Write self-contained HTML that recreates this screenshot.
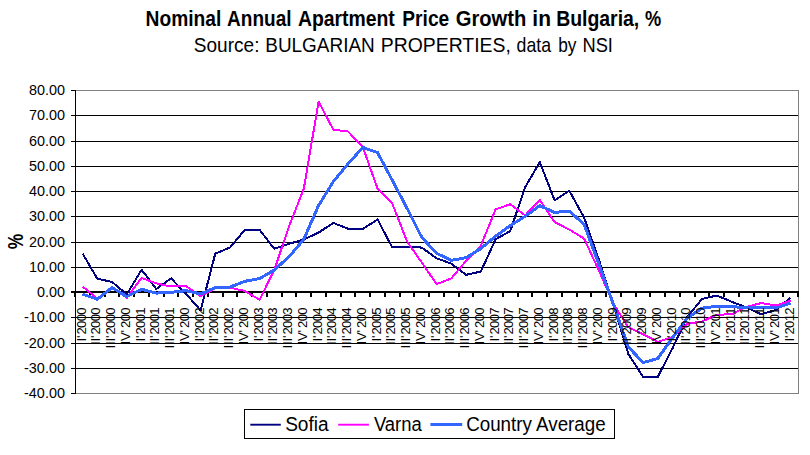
<!DOCTYPE html><html><head><meta charset="utf-8"><style>html,body{margin:0;padding:0;background:#fff}svg{display:block}text{font-family:"Liberation Sans",sans-serif;fill:#000}</style></head><body>
<svg width="810" height="455" viewBox="0 0 810 455">
<rect width="810" height="455" fill="#fff"/>
<line x1="75.5" y1="115.5" x2="798.5" y2="115.5" stroke="#000" stroke-width="1"/>
<line x1="75.5" y1="141.5" x2="798.5" y2="141.5" stroke="#000" stroke-width="1"/>
<line x1="75.5" y1="166.5" x2="798.5" y2="166.5" stroke="#000" stroke-width="1"/>
<line x1="75.5" y1="191.5" x2="798.5" y2="191.5" stroke="#000" stroke-width="1"/>
<line x1="75.5" y1="216.5" x2="798.5" y2="216.5" stroke="#000" stroke-width="1"/>
<line x1="75.5" y1="242.5" x2="798.5" y2="242.5" stroke="#000" stroke-width="1"/>
<line x1="75.5" y1="267.5" x2="798.5" y2="267.5" stroke="#000" stroke-width="1"/>
<line x1="75.5" y1="317.5" x2="798.5" y2="317.5" stroke="#000" stroke-width="1"/>
<line x1="75.5" y1="343.5" x2="798.5" y2="343.5" stroke="#000" stroke-width="1"/>
<line x1="75.5" y1="368.5" x2="798.5" y2="368.5" stroke="#000" stroke-width="1"/>
<rect x="75.5" y="90.5" width="723.0" height="303.0" fill="none" stroke="#808080" stroke-width="1"/>
<line x1="75.5" y1="90.0" x2="75.5" y2="394.0" stroke="#000" stroke-width="1"/>
<line x1="71" y1="90.5" x2="75.5" y2="90.5" stroke="#000" stroke-width="1"/>
<text x="64.9" y="95.4" text-anchor="end" font-size="14.4px">80.00</text>
<line x1="71" y1="115.5" x2="75.5" y2="115.5" stroke="#000" stroke-width="1"/>
<text x="64.9" y="120.4" text-anchor="end" font-size="14.4px">70.00</text>
<line x1="71" y1="141.5" x2="75.5" y2="141.5" stroke="#000" stroke-width="1"/>
<text x="64.9" y="146.4" text-anchor="end" font-size="14.4px">60.00</text>
<line x1="71" y1="166.5" x2="75.5" y2="166.5" stroke="#000" stroke-width="1"/>
<text x="64.9" y="171.4" text-anchor="end" font-size="14.4px">50.00</text>
<line x1="71" y1="191.5" x2="75.5" y2="191.5" stroke="#000" stroke-width="1"/>
<text x="64.9" y="196.4" text-anchor="end" font-size="14.4px">40.00</text>
<line x1="71" y1="216.5" x2="75.5" y2="216.5" stroke="#000" stroke-width="1"/>
<text x="64.9" y="221.4" text-anchor="end" font-size="14.4px">30.00</text>
<line x1="71" y1="242.5" x2="75.5" y2="242.5" stroke="#000" stroke-width="1"/>
<text x="64.9" y="247.4" text-anchor="end" font-size="14.4px">20.00</text>
<line x1="71" y1="267.5" x2="75.5" y2="267.5" stroke="#000" stroke-width="1"/>
<text x="64.9" y="272.4" text-anchor="end" font-size="14.4px">10.00</text>
<line x1="71" y1="292.5" x2="75.5" y2="292.5" stroke="#000" stroke-width="1"/>
<text x="64.9" y="297.4" text-anchor="end" font-size="14.4px">0.00</text>
<line x1="71" y1="317.5" x2="75.5" y2="317.5" stroke="#000" stroke-width="1"/>
<text x="64.9" y="322.4" text-anchor="end" font-size="14.4px">-10.00</text>
<line x1="71" y1="343.5" x2="75.5" y2="343.5" stroke="#000" stroke-width="1"/>
<text x="64.9" y="348.4" text-anchor="end" font-size="14.4px">-20.00</text>
<line x1="71" y1="368.5" x2="75.5" y2="368.5" stroke="#000" stroke-width="1"/>
<text x="64.9" y="373.4" text-anchor="end" font-size="14.4px">-30.00</text>
<line x1="71" y1="393.5" x2="75.5" y2="393.5" stroke="#000" stroke-width="1"/>
<text x="64.9" y="398.4" text-anchor="end" font-size="14.4px">-40.00</text>
<rect x="71" y="291" width="728" height="2" fill="#000"/>
<rect x="74" y="293" width="2" height="4" fill="#000"/>
<rect x="89" y="293" width="2" height="4" fill="#000"/>
<rect x="104" y="293" width="2" height="4" fill="#000"/>
<rect x="118" y="293" width="2" height="4" fill="#000"/>
<rect x="133" y="293" width="2" height="4" fill="#000"/>
<rect x="148" y="293" width="2" height="4" fill="#000"/>
<rect x="163" y="293" width="2" height="4" fill="#000"/>
<rect x="177" y="293" width="2" height="4" fill="#000"/>
<rect x="192" y="293" width="2" height="4" fill="#000"/>
<rect x="207" y="293" width="2" height="4" fill="#000"/>
<rect x="222" y="293" width="2" height="4" fill="#000"/>
<rect x="236" y="293" width="2" height="4" fill="#000"/>
<rect x="251" y="293" width="2" height="4" fill="#000"/>
<rect x="266" y="293" width="2" height="4" fill="#000"/>
<rect x="281" y="293" width="2" height="4" fill="#000"/>
<rect x="295" y="293" width="2" height="4" fill="#000"/>
<rect x="310" y="293" width="2" height="4" fill="#000"/>
<rect x="325" y="293" width="2" height="4" fill="#000"/>
<rect x="340" y="293" width="2" height="4" fill="#000"/>
<rect x="354" y="293" width="2" height="4" fill="#000"/>
<rect x="369" y="293" width="2" height="4" fill="#000"/>
<rect x="384" y="293" width="2" height="4" fill="#000"/>
<rect x="399" y="293" width="2" height="4" fill="#000"/>
<rect x="413" y="293" width="2" height="4" fill="#000"/>
<rect x="428" y="293" width="2" height="4" fill="#000"/>
<rect x="443" y="293" width="2" height="4" fill="#000"/>
<rect x="458" y="293" width="2" height="4" fill="#000"/>
<rect x="472" y="293" width="2" height="4" fill="#000"/>
<rect x="487" y="293" width="2" height="4" fill="#000"/>
<rect x="502" y="293" width="2" height="4" fill="#000"/>
<rect x="517" y="293" width="2" height="4" fill="#000"/>
<rect x="531" y="293" width="2" height="4" fill="#000"/>
<rect x="546" y="293" width="2" height="4" fill="#000"/>
<rect x="561" y="293" width="2" height="4" fill="#000"/>
<rect x="576" y="293" width="2" height="4" fill="#000"/>
<rect x="590" y="293" width="2" height="4" fill="#000"/>
<rect x="605" y="293" width="2" height="4" fill="#000"/>
<rect x="620" y="293" width="2" height="4" fill="#000"/>
<rect x="635" y="293" width="2" height="4" fill="#000"/>
<rect x="649" y="293" width="2" height="4" fill="#000"/>
<rect x="664" y="293" width="2" height="4" fill="#000"/>
<rect x="679" y="293" width="2" height="4" fill="#000"/>
<rect x="694" y="293" width="2" height="4" fill="#000"/>
<rect x="708" y="293" width="2" height="4" fill="#000"/>
<rect x="723" y="293" width="2" height="4" fill="#000"/>
<rect x="738" y="293" width="2" height="4" fill="#000"/>
<rect x="753" y="293" width="2" height="4" fill="#000"/>
<rect x="767" y="293" width="2" height="4" fill="#000"/>
<rect x="782" y="293" width="2" height="4" fill="#000"/>
<rect x="797" y="293" width="2" height="4" fill="#000"/>
<text transform="translate(23,241.6) rotate(-90) scale(0.92,1.18)" text-anchor="middle" font-size="19px" font-weight="bold">%</text>
<polyline points="82.6,253.5 97.3,278.7 112.1,282.0 126.8,294.4 141.6,269.7 156.3,288.9 171.1,278.4 185.8,293.7 200.6,310.3 215.3,253.6 230.1,247.5 244.8,229.8 259.6,229.8 274.3,248.8 289.1,243.8 303.8,239.5 318.6,232.6 333.3,222.9 348.1,228.8 362.8,228.8 377.6,219.5 392.3,247.5 407.1,246.5 421.8,247.6 436.6,258.3 451.3,263.6 466.1,274.8 480.8,271.6 495.6,239.3 510.3,231.0 525.1,187.3 539.8,162.1 554.6,200.4 569.3,190.7 584.1,217.6 598.8,259.4 613.6,305.4 628.3,353.9 643.1,376.9 657.8,376.9 672.6,348.1 687.3,316.9 702.1,298.9 716.8,295.5 731.6,301.7 746.3,307.4 761.1,314.2 775.8,310.0 790.6,297.7" fill="none" stroke="#000080" stroke-width="2" stroke-linejoin="round" shape-rendering="crispEdges"/>
<polyline points="82.6,286.6 97.3,298.5 112.1,287.0 126.8,297.9 141.6,277.9 156.3,283.4 171.1,286.5 185.8,285.8 200.6,296.4 215.3,288.4 230.1,287.6 244.8,291.0 259.6,299.7 274.3,270.0 289.1,226.2 303.8,188.7 318.6,101.6 333.3,129.6 348.1,131.5 362.8,147.0 377.6,188.7 392.3,203.6 407.1,241.5 421.8,262.6 436.6,284.1 451.3,278.5 466.1,260.8 480.8,245.8 495.6,209.4 510.3,204.2 525.1,215.4 539.8,200.1 554.6,222.0 569.3,229.6 584.1,238.5 598.8,270.4 613.6,304.2 628.3,327.3 643.1,334.2 657.8,341.8 672.6,337.2 687.3,323.8 702.1,321.5 716.8,314.6 731.6,314.4 746.3,306.9 761.1,303.1 775.8,305.4 790.6,300.8" fill="none" stroke="#ff00ff" stroke-width="2" stroke-linejoin="round" shape-rendering="crispEdges"/>
<polyline points="82.6,294.2 97.3,299.2 112.1,287.6 126.8,296.6 141.6,289.3 156.3,293.1 171.1,292.4 185.8,290.6 200.6,293.9 215.3,287.6 230.1,287.0 244.8,281.3 259.6,278.6 274.3,270.0 289.1,256.7 303.8,239.3 318.6,205.5 333.3,181.6 348.1,163.8 362.8,147.5 377.6,152.6 392.3,180.3 407.1,208.3 421.8,237.4 436.6,253.3 451.3,260.4 466.1,257.6 480.8,248.6 495.6,236.2 510.3,225.6 525.1,216.3 539.8,205.7 554.6,212.4 569.3,211.0 584.1,224.4 598.8,263.8 613.6,304.9 628.3,346.9 643.1,362.6 657.8,358.5 672.6,337.7 687.3,318.1 702.1,308.2 716.8,306.3 731.6,306.8 746.3,307.4 761.1,307.7 775.8,308.0 790.6,303.1" fill="none" stroke="#3366ff" stroke-width="3" stroke-linejoin="round" shape-rendering="crispEdges"/>
<text transform="translate(85.6,308.0) rotate(-90) scale(1,1.03)" x="-33.40 -29.90 -26.60 -19.95 -13.30 -6.65" y="0" font-size="13.1px">I'2000</text>
<text transform="translate(100.3,308.0) rotate(-90) scale(1,1.03)" x="-36.90 -33.40 -29.90 -26.60 -19.95 -13.30 -6.65" y="0" font-size="13.1px">II'2000</text>
<text transform="translate(115.1,308.0) rotate(-90) scale(1,1.03)" x="-40.40 -36.90 -33.40 -29.90 -26.60 -19.95 -13.30 -6.65" y="0" font-size="13.1px">III'2000</text>
<text transform="translate(129.8,308.0) rotate(-90) scale(1,1.03)" x="-36.45 -32.95 -24.55 -19.95 -13.30 -6.65" y="0" font-size="13.1px">IV'200</text>
<text transform="translate(144.6,308.0) rotate(-90) scale(1,1.03)" x="-33.40 -29.90 -26.60 -19.95 -13.30 -6.65" y="0" font-size="13.1px">I'2001</text>
<text transform="translate(159.3,308.0) rotate(-90) scale(1,1.03)" x="-36.90 -33.40 -29.90 -26.60 -19.95 -13.30 -6.65" y="0" font-size="13.1px">II'2001</text>
<text transform="translate(174.1,308.0) rotate(-90) scale(1,1.03)" x="-40.40 -36.90 -33.40 -29.90 -26.60 -19.95 -13.30 -6.65" y="0" font-size="13.1px">III'2001</text>
<text transform="translate(188.8,308.0) rotate(-90) scale(1,1.03)" x="-36.45 -32.95 -24.55 -19.95 -13.30 -6.65" y="0" font-size="13.1px">IV'200</text>
<text transform="translate(203.6,308.0) rotate(-90) scale(1,1.03)" x="-33.40 -29.90 -26.60 -19.95 -13.30 -6.65" y="0" font-size="13.1px">I'2002</text>
<text transform="translate(218.3,308.0) rotate(-90) scale(1,1.03)" x="-36.90 -33.40 -29.90 -26.60 -19.95 -13.30 -6.65" y="0" font-size="13.1px">II'2002</text>
<text transform="translate(233.1,308.0) rotate(-90) scale(1,1.03)" x="-40.40 -36.90 -33.40 -29.90 -26.60 -19.95 -13.30 -6.65" y="0" font-size="13.1px">III'2002</text>
<text transform="translate(247.8,308.0) rotate(-90) scale(1,1.03)" x="-36.45 -32.95 -24.55 -19.95 -13.30 -6.65" y="0" font-size="13.1px">IV'200</text>
<text transform="translate(262.6,308.0) rotate(-90) scale(1,1.03)" x="-33.40 -29.90 -26.60 -19.95 -13.30 -6.65" y="0" font-size="13.1px">I'2003</text>
<text transform="translate(277.3,308.0) rotate(-90) scale(1,1.03)" x="-36.90 -33.40 -29.90 -26.60 -19.95 -13.30 -6.65" y="0" font-size="13.1px">II'2003</text>
<text transform="translate(292.1,308.0) rotate(-90) scale(1,1.03)" x="-40.40 -36.90 -33.40 -29.90 -26.60 -19.95 -13.30 -6.65" y="0" font-size="13.1px">III'2003</text>
<text transform="translate(306.8,308.0) rotate(-90) scale(1,1.03)" x="-36.45 -32.95 -24.55 -19.95 -13.30 -6.65" y="0" font-size="13.1px">IV'200</text>
<text transform="translate(321.6,308.0) rotate(-90) scale(1,1.03)" x="-33.40 -29.90 -26.60 -19.95 -13.30 -6.65" y="0" font-size="13.1px">I'2004</text>
<text transform="translate(336.3,308.0) rotate(-90) scale(1,1.03)" x="-36.90 -33.40 -29.90 -26.60 -19.95 -13.30 -6.65" y="0" font-size="13.1px">II'2004</text>
<text transform="translate(351.1,308.0) rotate(-90) scale(1,1.03)" x="-40.40 -36.90 -33.40 -29.90 -26.60 -19.95 -13.30 -6.65" y="0" font-size="13.1px">III'2004</text>
<text transform="translate(365.8,308.0) rotate(-90) scale(1,1.03)" x="-36.45 -32.95 -24.55 -19.95 -13.30 -6.65" y="0" font-size="13.1px">IV'200</text>
<text transform="translate(380.6,308.0) rotate(-90) scale(1,1.03)" x="-33.40 -29.90 -26.60 -19.95 -13.30 -6.65" y="0" font-size="13.1px">I'2005</text>
<text transform="translate(395.3,308.0) rotate(-90) scale(1,1.03)" x="-36.90 -33.40 -29.90 -26.60 -19.95 -13.30 -6.65" y="0" font-size="13.1px">II'2005</text>
<text transform="translate(410.1,308.0) rotate(-90) scale(1,1.03)" x="-40.40 -36.90 -33.40 -29.90 -26.60 -19.95 -13.30 -6.65" y="0" font-size="13.1px">III'2005</text>
<text transform="translate(424.8,308.0) rotate(-90) scale(1,1.03)" x="-36.45 -32.95 -24.55 -19.95 -13.30 -6.65" y="0" font-size="13.1px">IV'200</text>
<text transform="translate(439.6,308.0) rotate(-90) scale(1,1.03)" x="-33.40 -29.90 -26.60 -19.95 -13.30 -6.65" y="0" font-size="13.1px">I'2006</text>
<text transform="translate(454.3,308.0) rotate(-90) scale(1,1.03)" x="-36.90 -33.40 -29.90 -26.60 -19.95 -13.30 -6.65" y="0" font-size="13.1px">II'2006</text>
<text transform="translate(469.1,308.0) rotate(-90) scale(1,1.03)" x="-40.40 -36.90 -33.40 -29.90 -26.60 -19.95 -13.30 -6.65" y="0" font-size="13.1px">III'2006</text>
<text transform="translate(483.8,308.0) rotate(-90) scale(1,1.03)" x="-36.45 -32.95 -24.55 -19.95 -13.30 -6.65" y="0" font-size="13.1px">IV'200</text>
<text transform="translate(498.6,308.0) rotate(-90) scale(1,1.03)" x="-33.40 -29.90 -26.60 -19.95 -13.30 -6.65" y="0" font-size="13.1px">I'2007</text>
<text transform="translate(513.3,308.0) rotate(-90) scale(1,1.03)" x="-36.90 -33.40 -29.90 -26.60 -19.95 -13.30 -6.65" y="0" font-size="13.1px">II'2007</text>
<text transform="translate(528.1,308.0) rotate(-90) scale(1,1.03)" x="-40.40 -36.90 -33.40 -29.90 -26.60 -19.95 -13.30 -6.65" y="0" font-size="13.1px">III'2007</text>
<text transform="translate(542.8,308.0) rotate(-90) scale(1,1.03)" x="-36.45 -32.95 -24.55 -19.95 -13.30 -6.65" y="0" font-size="13.1px">IV'200</text>
<text transform="translate(557.6,308.0) rotate(-90) scale(1,1.03)" x="-33.40 -29.90 -26.60 -19.95 -13.30 -6.65" y="0" font-size="13.1px">I'2008</text>
<text transform="translate(572.3,308.0) rotate(-90) scale(1,1.03)" x="-36.90 -33.40 -29.90 -26.60 -19.95 -13.30 -6.65" y="0" font-size="13.1px">II'2008</text>
<text transform="translate(587.1,308.0) rotate(-90) scale(1,1.03)" x="-40.40 -36.90 -33.40 -29.90 -26.60 -19.95 -13.30 -6.65" y="0" font-size="13.1px">III'2008</text>
<text transform="translate(601.8,308.0) rotate(-90) scale(1,1.03)" x="-36.45 -32.95 -24.55 -19.95 -13.30 -6.65" y="0" font-size="13.1px">IV'200</text>
<text transform="translate(616.6,308.0) rotate(-90) scale(1,1.03)" x="-33.40 -29.90 -26.60 -19.95 -13.30 -6.65" y="0" font-size="13.1px">I'2009</text>
<text transform="translate(631.3,308.0) rotate(-90) scale(1,1.03)" x="-36.90 -33.40 -29.90 -26.60 -19.95 -13.30 -6.65" y="0" font-size="13.1px">II'2009</text>
<text transform="translate(646.1,308.0) rotate(-90) scale(1,1.03)" x="-40.40 -36.90 -33.40 -29.90 -26.60 -19.95 -13.30 -6.65" y="0" font-size="13.1px">III'2009</text>
<text transform="translate(660.8,308.0) rotate(-90) scale(1,1.03)" x="-36.45 -32.95 -24.55 -19.95 -13.30 -6.65" y="0" font-size="13.1px">IV'200</text>
<text transform="translate(675.6,308.0) rotate(-90) scale(1,1.03)" x="-33.40 -29.90 -26.60 -19.95 -13.30 -6.65" y="0" font-size="13.1px">I'2010</text>
<text transform="translate(690.3,308.0) rotate(-90) scale(1,1.03)" x="-36.90 -33.40 -29.90 -26.60 -19.95 -13.30 -6.65" y="0" font-size="13.1px">II'2010</text>
<text transform="translate(705.1,308.0) rotate(-90) scale(1,1.03)" x="-40.40 -36.90 -33.40 -29.90 -26.60 -19.95 -13.30 -6.65" y="0" font-size="13.1px">III'2010</text>
<text transform="translate(719.8,308.0) rotate(-90) scale(1,1.03)" x="-36.45 -32.95 -24.55 -19.95 -13.30 -6.65" y="0" font-size="13.1px">IV'201</text>
<text transform="translate(734.6,308.0) rotate(-90) scale(1,1.03)" x="-33.40 -29.90 -26.60 -19.95 -13.30 -6.65" y="0" font-size="13.1px">I'2011</text>
<text transform="translate(749.3,308.0) rotate(-90) scale(1,1.03)" x="-36.90 -33.40 -29.90 -26.60 -19.95 -13.30 -6.65" y="0" font-size="13.1px">II'2011</text>
<text transform="translate(764.1,308.0) rotate(-90) scale(1,1.03)" x="-40.40 -36.90 -33.40 -29.90 -26.60 -19.95 -13.30 -6.65" y="0" font-size="13.1px">III'2011</text>
<text transform="translate(778.8,308.0) rotate(-90) scale(1,1.03)" x="-36.45 -32.95 -24.55 -19.95 -13.30 -6.65" y="0" font-size="13.1px">IV'201</text>
<text transform="translate(793.6,308.0) rotate(-90) scale(1,1.03)" x="-33.40 -29.90 -26.60 -19.95 -13.30 -6.65" y="0" font-size="13.1px">I'2012</text>
<rect x="244.5" y="409.5" width="370" height="29" fill="#fff" stroke="#000" stroke-width="1"/>
<line x1="250.3" y1="424.7" x2="280.8" y2="424.7" stroke="#000080" stroke-width="1.9"/>
<line x1="338.2" y1="424.7" x2="368.9" y2="424.7" stroke="#ff00ff" stroke-width="1.9"/>
<line x1="430.4" y1="424.5" x2="462.2" y2="424.5" stroke="#3366ff" stroke-width="3"/>
<text transform="translate(145.55,26.0) scale(1.0107,1.13)" font-size="19px" font-weight="bold">Nominal</text>
<text transform="translate(227.12,26.0) scale(1.0013,1.13)" font-size="19px" font-weight="bold">Annual</text>
<text transform="translate(297.91,26.0) scale(1.0204,1.13)" font-size="19px" font-weight="bold">Apartment</text>
<text transform="translate(402.35,26.0) scale(1.0080,1.13)" font-size="19px" font-weight="bold">Price</text>
<text transform="translate(455.69,26.0) scale(1.0623,1.13)" font-size="19px" font-weight="bold">Growth</text>
<text transform="translate(532.34,26.0) scale(1.1036,1.13)" font-size="19px" font-weight="bold">in</text>
<text transform="translate(556.13,26.0) scale(1.0233,1.13)" font-size="19px" font-weight="bold">Bulgaria,</text>
<text transform="translate(644.94,26.0) scale(0.9598,1.13)" font-size="19px" font-weight="bold">%</text>
<text transform="translate(193.84,51.9) scale(1.0024,1.1)" font-size="19px">Source:</text>
<text transform="translate(265.28,51.9) scale(0.9970,1.1)" font-size="19px">BULGARIAN</text>
<text transform="translate(380.75,51.9) scale(1.0208,1.1)" font-size="19px">PROPERTIES,</text>
<text transform="translate(516.59,51.9) scale(0.9313,1.1)" font-size="19px">data</text>
<text transform="translate(558.16,51.9) scale(0.9088,1.1)" font-size="19px">by</text>
<text transform="translate(582.44,51.9) scale(0.9619,1.1)" font-size="19px">NSI</text>
<text transform="translate(285.14,430.5) scale(1.0042,1.03)" font-size="19px">Sofia</text>
<text transform="translate(373.90,430.5) scale(0.9724,1.03)" font-size="19px">Varna</text>
<text transform="translate(466.16,430.5) scale(0.9887,1.03)" font-size="19px">Country Average</text>
</svg></body></html>
